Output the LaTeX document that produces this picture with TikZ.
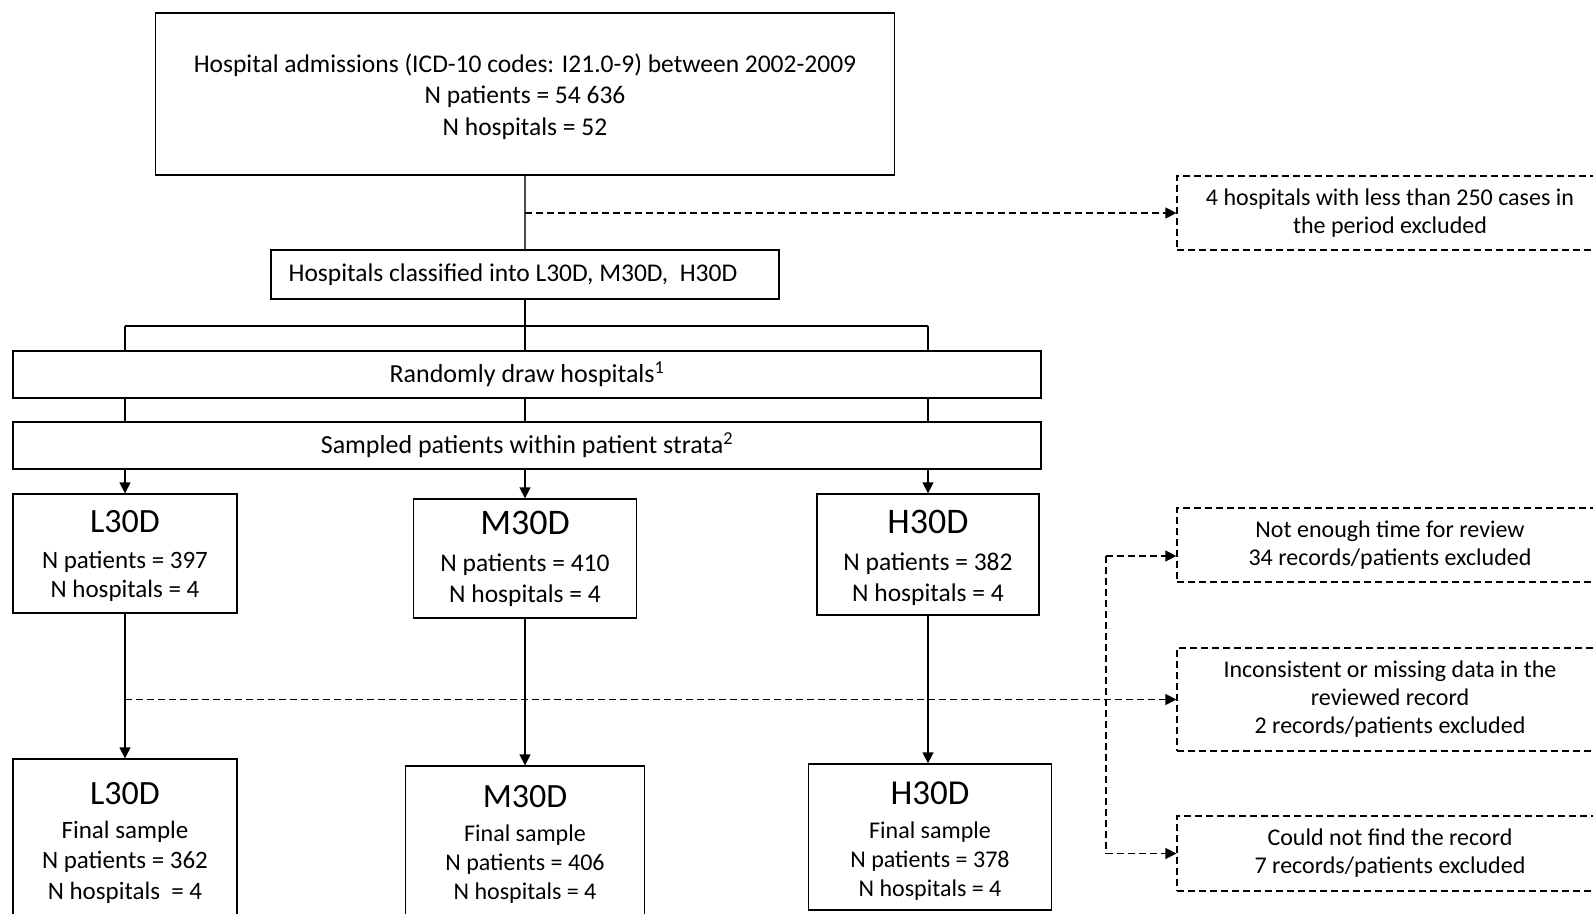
\documentclass[tikz,border=0pt]{standalone}
\usepackage{fontspec}
\setmainfont{Carlito}
\usetikzlibrary{arrows.meta}
\begin{document}
\begin{tikzpicture}[x=1pt,y=-1pt,
  box/.style={draw, line width=1.3pt, inner sep=0pt, align=center},
  dbox/.style={draw, line width=1.2pt, dash pattern=on 7pt off 4pt, inner sep=0pt, align=center, font=\fontsize{24}{28}\selectfont},
  conn/.style={line width=1.3pt},
  arr/.style={conn, -{Triangle[length=11pt,width=11pt]}},
  dline/.style={line width=1.2pt, dash pattern=on 7pt off 4pt},
  darr/.style={dline, -{Triangle[length=11pt,width=11pt]}},
  txt/.style={font=\fontsize{25.5}{31.5}\selectfont}
]
\useasboundingbox (0,0) rectangle (1593,913);
\clip (0,0) rectangle (1593,913);

% main boxes
\node[box, txt, minimum width=739pt, minimum height=162pt] (top) at (525,94)
  {\rule{0pt}{24pt}Hospital admissions (ICD-10 codes: I21.0-9) between 2002-2009\\N patients = 54 636\\N hospitals = 52};
\node[box, txt, minimum width=508pt, minimum height=49pt] (cls) at (525,274.5)
  {\hspace*{-24pt}Hospitals classified into L30D, M30D, \ H30D};
\node[box, font=\fontsize{26}{30}\selectfont, minimum width=1028pt, minimum height=47pt] (rand) at (527,374.5)
  {Randomly draw hospitals\textsuperscript{1}};
\node[box, font=\fontsize{26}{30}\selectfont, minimum width=1028pt, minimum height=47pt] (samp) at (527,445.5)
  {Sampled patients within patient strata\textsuperscript{2}};

% stratum boxes
\node[box, font=\fontsize{25}{29}\selectfont, minimum width=224pt, minimum height=119pt] (L1) at (125,553.5)
  {\rule{0pt}{28pt}{\fontsize{34}{36}\selectfont L30D}\\[7pt]N patients = 397\\N hospitals = 4};
\node[box, font=\fontsize{25.5}{31}\selectfont, minimum width=223pt, minimum height=119pt] (M1) at (525,558.5)
  {{\fontsize{36}{38}\selectfont M30D}\\[6pt]N patients = 410\\N hospitals = 4};
\node[box, font=\fontsize{25.5}{31}\selectfont, minimum width=222pt, minimum height=121pt] (H1) at (928,554.5)
  {\rule{0pt}{31pt}{\fontsize{36}{38}\selectfont H30D}\\[6pt]N patients = 382\\N hospitals = 4};

% final boxes
\node[box, font=\fontsize{25}{30.5}\selectfont, minimum width=224pt, minimum height=168pt] (L2) at (125,843)
  {{\fontsize{34}{36}\selectfont L30D}\\[3pt]Final sample\\N patients = 362\\N hospitals \ = 4};
\node[box, font=\fontsize{24}{29}\selectfont, minimum width=239pt, minimum height=156pt] (M2) at (525,844)
  {{\fontsize{34}{36}\selectfont M30D}\\[5pt]Final sample\\N patients = 406\\N hospitals = 4};
\node[box, font=\fontsize{24}{29}\selectfont, minimum width=243pt, minimum height=146pt] (H2) at (930,837)
  {\rule{0pt}{30pt}{\fontsize{35}{36}\selectfont H30D}\\[5pt]Final sample\\N patients = 378\\N hospitals = 4};

% exclusion boxes
\node[dbox, minimum width=426pt, minimum height=74pt] (ex1) at (1390,213)
  {4 hospitals with less than 250 cases in\\the period excluded};
\node[dbox, minimum width=426pt, minimum height=74pt] (ex2) at (1390,545)
  {Not enough time for review\\34 records/patients excluded};
\node[dbox, minimum width=426pt, minimum height=103pt] (ex3) at (1390,699.5)
  {Inconsistent or missing data in the\\reviewed record\\2 records/patients excluded};
\node[dbox, minimum width=426pt, minimum height=75pt] (ex4) at (1390,853.5)
  {Could not find the record\\7 records/patients excluded};

% connectors, top part
\coordinate (d1) at (525,213);
\coordinate (bL) at (125,326);
\coordinate (bM) at (525,326);
\coordinate (bR) at (928,326);
\draw[conn, black!70] (top.south) -- (cls.north);
\draw[darr] (d1) -- (ex1.west);
\draw[conn] (cls.south) -- (bM);
\draw[conn] (bL) -- (bR);
\draw[conn] (bL) -- (bL |- rand.north);
\draw[conn] (bM) -- (bM |- rand.north);
\draw[conn] (bR) -- (bR |- rand.north);
\draw[conn] (rand.south -| bL) -- (samp.north -| bL);
\draw[conn] (rand.south -| bM) -- (samp.north -| bM);
\draw[conn] (rand.south -| bR) -- (samp.north -| bR);
\draw[arr] (samp.south -| L1.north) -- (L1.north);
\draw[arr] (samp.south -| M1.north) -- (M1.north);
\draw[arr] (samp.south -| H1.north) -- (H1.north);

% connectors, lower part
\draw[arr] (L1.south) -- (L2.north);
\draw[arr] (M1.south) -- (M2.north);
\draw[arr] (H1.south) -- (H1.south |- H2.north);
\coordinate (d2) at (125,699.5);
\draw[darr] (d2) -- (ex3.west);
\coordinate (v1) at (1106,556);
\coordinate (v2) at (1106,853.5);
\draw[dline] (v1) -- (v2);
\draw[darr] (v1) -- (v1 -| ex2.west);
\draw[darr] (v2) -- (ex4.west);
\end{tikzpicture}
\end{document}
